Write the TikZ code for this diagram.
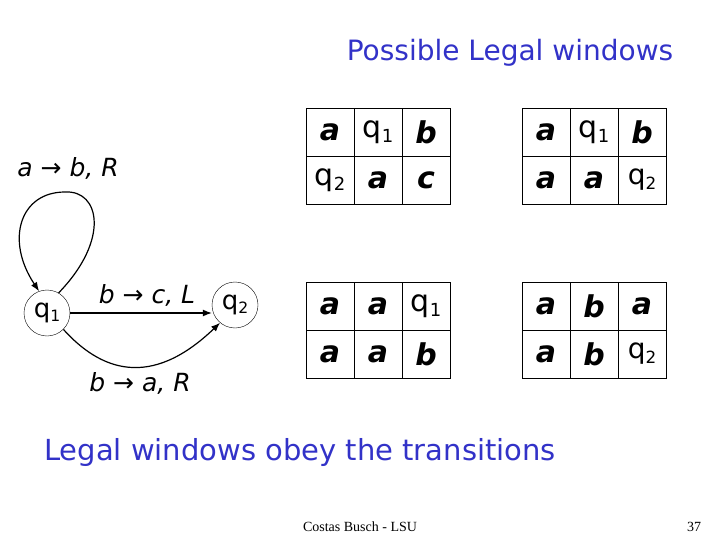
\documentclass[tikz,border=0pt]{standalone}
\usepackage{fontspec}
\setmainfont{Liberation Serif}
\newfontfamily\cs{DejaVu Sans}
\usetikzlibrary{arrows.meta}
\definecolor{ttl}{RGB}{50,50,200}
\newcommand\qq[1]{q\raisebox{-0.3ex}{\scalebox{0.6}{#1}}}
\newcommand\ar{\ {\cs\upshape →}\ }
\begin{document}
\begin{tikzpicture}[x=1pt,y=-1pt,
  st/.style={circle,draw,thin,minimum size=46pt,inner sep=0pt,font=\cs\fontsize{26}{26}\selectfont},
  cell/.style={draw,minimum width=48pt,minimum height=48pt,inner sep=0pt,font=\cs\bfseries\itshape\fontsize{30}{30}\selectfont},
  lab/.style={font=\cs\itshape\fontsize{25}{25}\selectfont},
  ed/.style={line width=1.2pt,-{Latex[length=9pt,width=7pt]}}]
\useasboundingbox (0,0) rectangle (720,540);
\node[font=\cs\fontsize{28}{28}\selectfont,text=ttl] (title) at (510,53) {Possible Legal windows};
\node[font=\cs\fontsize{29}{29}\selectfont,text=ttl] (sub) at (300,452) {Legal windows obey the transitions};
\node[font=\fontsize{14}{14}\selectfont] (foot) at (360,527) {Costas Busch - LSU};
\node[font=\fontsize{14}{14}\selectfont] (pg) at (694,527) {37};
\node[st] (q1) at (47,313) {\qq1};
\node[st] (q2) at (235,305) {\qq2};
\draw[ed] (q1.60) .. controls (110,240) and (100,190) .. (65,192) .. controls (20,192) and (5,240) .. (q1.110);
\draw[ed] (q1.east) -- (q2.west|-q1.east);
\draw[ed] (q1.-45) .. controls (100,370) and (150,390) .. (q2.-130);
\node[lab] (l1) at (68,168) {a\ar b, R};
\node[lab] (l2) at (147,295) {b\ar c, L};
\node[lab] (l3) at (140,383) {b\ar a, R};
\tikzset{qc/.style={cell,font=\cs\fontsize{28}{28}\selectfont}}
\newcommand\mygrid[8]{%
 \foreach \t [count=\i from 0] in {#3,#4,#5} {\node[cell] (g#8a\i) at (#1+24+48*\i,#2+24) {\t};}
 \foreach \t [count=\i from 0] in {#6,#7} {\node[cell] (g#8b\i) at (#1+24+48*\i,#2+72) {\t};}}
\mygrid{306}{108}{a}{\mdseries\upshape\qq1}{b}{\mdseries\upshape\qq2}{a}{1}
\node[cell] at (306+120,108+72) {c};
\mygrid{522}{108}{a}{\mdseries\upshape\qq1}{b}{a}{a}{2}
\node[qc] at (522+120,108+72) {\qq2};
\mygrid{306}{282}{a}{a}{\mdseries\upshape\qq1}{a}{a}{3}
\node[cell] at (306+120,282+72) {b};
\mygrid{522}{282}{a}{b}{a}{a}{b}{4}
\node[qc] at (522+120,282+72) {\qq2};
\end{tikzpicture}
\end{document}
